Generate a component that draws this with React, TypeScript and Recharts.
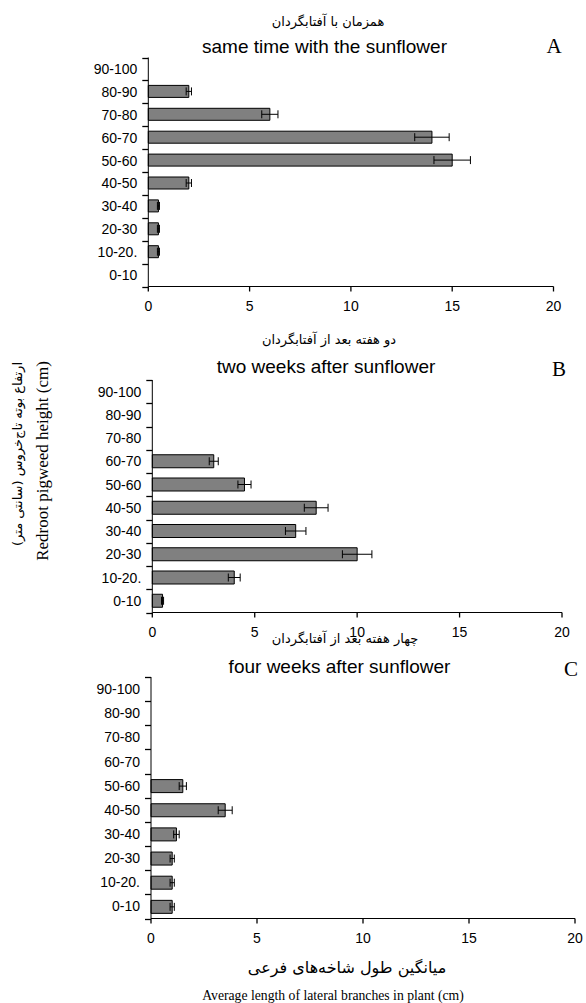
import React from 'react';
import { BarChart, Bar, XAxis, YAxis, ErrorBar } from 'recharts';

const categories = ['90-100', '80-90', '70-80', '60-70', '50-60', '40-50', '30-40', '20-30', '10-20.', '0-10'];
const valuesA = [0, 2, 6, 14, 15, 2, 0.5, 0.5, 0.5, 0];
const errA = [0, 0.13, 0.4, 0.85, 0.9, 0.13, 0.05, 0.05, 0.05, 0];
const valuesB = [0, 0, 0, 3, 4.5, 8, 7, 10, 4, 0.5];
const errB = [0, 0, 0, 0.22, 0.32, 0.58, 0.5, 0.72, 0.29, 0.05];
const valuesC = [0, 0, 0, 0, 1.5, 3.5, 1.2, 1, 1, 1];
const errC = [0, 0, 0, 0, 0.17, 0.33, 0.13, 0.1, 0.1, 0.1];
const xTicks = [0, 5, 10, 15, 20];

const W = 586;
const H = 1003;
const SANS = 'Liberation Sans, Arial, sans-serif';
const SERIF = 'Liberation Serif, Times New Roman, serif';
const FA = 'DejaVu Sans, Noto Sans, sans-serif';

function CatTick(props: any) {
  const { x, y, payload, halfBand } = props;
  const axisX = Number(x) + 11;
  const yy = Number(y);
  const below = Math.round(yy + halfBand) + 0.5;
  const above = Math.round(yy - halfBand) + 0.5;
  const isFirst = payload && payload.value === categories[0];
  return (
    <g>
      <text x={x} y={y} textAnchor="end" dominantBaseline="central" fontSize={14} fontFamily={SANS} fill="#000">
        {payload.value}
      </text>
      <line x1={axisX - 6} x2={axisX} y1={below} y2={below} stroke="#000" strokeWidth={1.3} />
      {isFirst ? <line x1={axisX - 6} x2={axisX} y1={above} y2={above} stroke="#000" strokeWidth={1.3} /> : null}
    </g>
  );
}

function Panel({ values, errs, top, bottom, left, right, barSize }: any) {
  const data = categories.map((c, i) => ({ cat: c, v: values[i], e: errs[i] }));
  const xAxisH = 30;
  const halfBand = (bottom - top) / categories.length / 2;
  return (
    <div style={{ position: 'absolute', left: 0, top: 0 }}>
      <BarChart
        width={W}
        height={H}
        data={data}
        layout="vertical"
        margin={{ top: top, bottom: H - bottom - xAxisH, left: 0, right: W - right }}
      >
        <XAxis
          type="number"
          domain={[0, 20]}
          ticks={xTicks}
          height={xAxisH}
          tickSize={5}
          tickMargin={10}
          axisLine={{ stroke: '#000' }}
          tickLine={{ stroke: '#000', strokeWidth: 1.3 }}
          tick={{ fontSize: 14, fontFamily: SANS, fill: '#000' }}
          interval={0}
        />
        <YAxis
          type="category"
          dataKey="cat"
          width={left}
          tickSize={5}
          tickMargin={6}
          tickLine={false}
          axisLine={{ stroke: '#000' }}
          tick={<CatTick halfBand={halfBand} />}
          interval={0}
        />
        <Bar dataKey="v" fill="#808080" stroke="#000" strokeWidth={1} barSize={barSize} isAnimationActive={false}>
          <ErrorBar dataKey="e" direction="x" width={4} stroke="#000" strokeWidth={1} isAnimationActive={false} />
        </Bar>
      </BarChart>
    </div>
  );
}

export default function App() {
  return (
    <div style={{ position: 'absolute', left: 0, top: 0, width: W, height: H, background: '#fff' }}>
      <Panel values={valuesA} errs={errA} top={57.5} bottom={286.5} left={148.3} right={553.5} barSize={12} />
      <Panel values={valuesB} errs={errB} top={380} bottom={612.5} left={152.3} right={562} barSize={13} />
      <Panel values={valuesC} errs={errC} top={677} bottom={918.5} left={151} right={575} barSize={13} />
      <svg width={W} height={H} style={{ position: 'absolute', left: 0, top: 0, pointerEvents: 'none' }}>
        <text x={328} y={26} textAnchor="middle" fontSize={13} fontFamily={FA} fill="#000" direction="rtl">همزمان با آفتابگردان</text>
        <text x={324.5} y={53} textAnchor="middle" fontSize={19} fontFamily={SANS} fill="#000">same time with the sunflower</text>
        <text x={554} y={53} textAnchor="middle" fontSize={21} fontFamily={SERIF} fill="#000">A</text>

        <text x={329} y={344} textAnchor="middle" fontSize={13} fontFamily={FA} fill="#000" direction="rtl">دو هفته بعد از آفتابگردان</text>
        <text x={326} y={373} textAnchor="middle" fontSize={19} fontFamily={SANS} fill="#000">two weeks after sunflower</text>
        <text x={559} y={376} textAnchor="middle" fontSize={21} fontFamily={SERIF} fill="#000">B</text>

        <text x={345} y={643} textAnchor="middle" fontSize={13} fontFamily={FA} fill="#000" direction="rtl">چهار هفته بعد از آفتابگردان</text>
        <text x={339.5} y={673} textAnchor="middle" fontSize={19} fontFamily={SANS} fill="#000">four weeks after sunflower</text>
        <text x={571} y={676} textAnchor="middle" fontSize={21} fontFamily={SERIF} fill="#000">C</text>

        <text transform="translate(22,454) rotate(-90)" textAnchor="middle" fontSize={13} fontFamily={FA} fill="#000" direction="rtl">ارتفاع بوته تاج‌خروس (سانتی متر)</text>
        <text transform="translate(48,461) rotate(-90)" textAnchor="middle" fontSize={17} fontFamily={SERIF} fill="#000">Redroot pigweed height (cm)</text>

        <text x={347} y={973} textAnchor="middle" fontSize={16} fontFamily={FA} fill="#000" direction="rtl">میانگین طول شاخه‌های فرعی</text>
        <text x={333} y={1000} textAnchor="middle" fontSize={13.7} fontFamily={SERIF} fill="#000">Average length of lateral branches in plant (cm)</text>
      </svg>
    </div>
  );
}
